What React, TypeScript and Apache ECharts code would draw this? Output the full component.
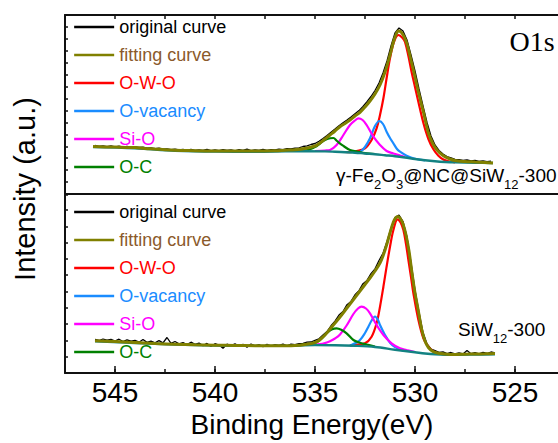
import React, { useEffect, useRef } from 'react';
import * as echarts from 'echarts';

// ---------- data (binding energy in eV, intensity in arbitrary units) ----------
const X_MIN = 520;
const X_MAX = 547.5;
const X_TICK_LABELS = [545, 540, 535, 530, 525];

const LEGEND_NAMES = ['original curve', 'fitting curve', 'O-W-O', 'O-vacancy', 'Si-O', 'O-C'];
const LEGEND_TEXT_COLORS = ['#000000', '#8B5A2B', '#FF0000', '#1A8CFF', '#FF00FF', '#008000'];
const LINE_COLORS = {
  original: '#000000',
  fit: '#808000',
  owo: '#FF0000',
  vac: '#1A8CFF',
  sio: '#FF00FF',
  oc: '#008000',
  bg: '#138282',
};

// raw spectra sampled every 0.2 eV starting at 546.0 eV (decreasing)
const ENERGY_START = 546.0;
const ENERGY_STEP = 0.2;

const TOP_ORIGINAL = [
  48.5, 47.5, 48.2, 47.3, 48.0, 47.2, 47.8, 46.9, 47.6, 46.8,
  47.2, 46.5, 46.9, 45.8, 46.2, 45.4, 45.9, 44.8, 45.1, 44.3,
  44.9, 44.0, 44.6, 43.8, 44.5, 43.6, 44.2, 43.5, 44.6, 43.4,
  44.0, 43.3, 44.4, 43.5, 44.1, 43.2, 44.3, 43.6, 44.8, 43.4,
  44.2, 43.5, 44.5, 43.7, 44.3, 44.0, 44.8, 44.4, 45.3, 45.0,
  45.8, 46.2, 47.5, 48.2, 49.5, 50.5, 52.8, 55.5, 58.5, 61.8,
  65.0, 68.3, 71.2, 74.0, 77.0, 80.3, 83.4, 87.5, 92.3, 97.5,
  103.5, 111, 121, 133, 148, 161, 166, 163, 154, 139,
  123, 105, 88, 71.5, 58, 49, 43.5, 40, 37.5, 36.2,
  34.6, 34.3, 33.5, 34.0, 33.1, 33.6, 32.6, 33.2, 32.3, 32.8,
];

const BOTTOM_ORIGINAL = [
  33.5, 32.5, 34.0, 32.8, 33.6, 31.9, 33.8, 31.5, 33.2, 31.8,
  32.6, 30.8, 33.5, 30.6, 31.9, 30.2, 32.4, 30.1, 35.5, 29.6,
  31.5, 29.2, 30.4, 28.5, 30.8, 28.7, 29.9, 27.4, 29.6, 26.5,
  29.3, 27.9, 24.8, 28.8, 27.3, 29.1, 26.9, 28.6, 25.8, 29.0,
  27.1, 28.4, 26.2, 28.7, 26.8, 28.3, 27.6, 28.9, 27.1, 28.8,
  28.4, 29.3, 29.6, 30.8, 31.0, 32.6, 34.2, 38.1, 41.5, 47.2,
  51.8, 57.9, 61.5, 68.3, 71.6, 78.2, 82.4, 89.3, 92.6, 99.4,
  104.1, 112.5, 119.8, 131.5, 145, 155.5, 158, 151.5, 136, 110.5,
  83, 61, 40.5, 29, 24, 22.3, 20.6, 21.2, 19.4, 20.5,
  19.2, 20.1, 19.0, 22.5, 19.3, 20.4, 19.1, 20.6, 19.5, 21.0,
  20.1,
];

// ---- top panel: γ-Fe2O3@NC@SiW12-300 ----
const TOP_FIT = [
  [546.1, 47.5], [545.5, 47.1], [545, 47], [544.5, 46.6], [544, 46.4], [543.5, 45.5], [543, 45],
  [542.5, 44.3], [542, 43.8], [541.5, 43.5], [541, 43.2], [540, 43], [539, 43], [538, 43],
  [537, 43.3], [536.5, 43.8], [536, 44.3], [535.5, 45.5], [535, 48], [534.75, 51], [534.5, 55],
  [534.25, 59], [534, 63], [533.75, 67.3], [533.5, 70.5], [533.25, 74], [533, 78], [532.75, 81.7],
  [532.5, 87], [532.25, 93], [532, 100], [531.75, 109], [531.5, 122], [531.25, 139], [531.08, 152],
  [530.95, 159.5], [530.83, 163], [530.7, 162], [530.55, 157.5], [530.4, 150], [530.25, 138],
  [530.08, 124], [529.83, 102], [529.58, 82], [529.33, 61], [529.1, 50], [528.9, 44], [528.6, 38.5],
  [528.25, 35], [528, 33.5], [527.5, 32.5], [527, 32], [526.5, 31.5], [526.1, 31],
];
const TOP_OWO = [
  [533.5, 42], [533.25, 41.8], [532.92, 43], [532.5, 45.7], [532.17, 54], [531.92, 65.7],
  [531.75, 79], [531.58, 95.7], [531.42, 115.7], [531.25, 135.7], [531.05, 152], [530.83, 159],
  [530.62, 156], [530.5, 152], [530.33, 138], [530.17, 122], [530, 107], [529.83, 92],
  [529.58, 71], [529.33, 55], [529.08, 44.8], [528.83, 38.3], [528.58, 34.5], [528.33, 32.8], [528, 31.6],
];
const TOP_VACANCY = [
  [533, 41.3], [532.75, 42], [532.5, 47], [532.25, 55.7], [532, 68], [531.78, 73], [531.6, 70],
  [531.42, 62.3], [531.25, 56], [531.08, 50.7], [530.9, 45], [530.75, 42.3], [530.42, 38.3],
  [530, 35.2], [529.5, 33.7],
];
const TOP_SIO = [
  [535, 43], [534.5, 43.5], [534.25, 44], [533.92, 49], [533.58, 59], [533.25, 69], [533, 73.5],
  [532.83, 75.7], [532.62, 74], [532.42, 69], [532.08, 57.3], [531.75, 49], [531.42, 43],
  [531.08, 40.5], [530.75, 38.5], [530.5, 37],
];
const TOP_OC = [
  [536, 43.3], [535.5, 43.5], [535, 47], [534.75, 50.5], [534.5, 54], [534.25, 55.7], [534.08, 56],
  [533.9, 53], [533.6, 48.3], [533.25, 44], [532.9, 42.5], [532.5, 40.8], [532, 40],
];
const TOP_BACKGROUND = [
  [546.1, 47], [544, 45.8], [542, 43.3], [540, 42.4], [538, 42.3], [536.5, 42.6], [535.5, 42.8],
  [534.5, 42.6], [534, 42.2], [533, 41.3], [532.5, 40.5], [532, 39.8], [531.5, 38.8], [531, 37.8],
  [530.5, 36.5], [530, 35], [529.5, 33.7], [529, 32.7], [528.5, 32], [528, 31.6], [527, 31.2], [526.1, 31],
];

// ---- bottom panel: SiW12-300 ----
const BOTTOM_FIT = [
  [546, 32.3], [545, 31.5], [544, 30.5], [543, 29.5], [542, 28.8], [541, 28.2], [540, 27.8],
  [539, 27.5], [538, 27.3], [537, 27.2], [536, 27.5], [535.5, 28.5], [535, 30.5], [534.75, 33.5],
  [534.5, 38], [534.25, 44], [534, 50], [533.75, 56], [533.5, 62.5], [533.25, 69], [533, 75.5],
  [532.75, 82], [532.5, 88.5], [532.25, 95], [532, 102], [531.75, 110], [531.6, 117], [531.42, 128],
  [531.25, 140], [531.08, 151], [530.95, 155.5], [530.85, 156.5], [530.72, 154], [530.6, 149],
  [530.45, 138], [530.3, 122], [530.15, 100], [530, 80], [529.85, 64], [529.67, 44], [529.5, 32],
  [529.33, 25.5], [529.1, 21.5], [528.8, 19.7], [528.4, 18.7], [528, 18.5], [527.5, 18.8],
  [527, 19], [526.5, 19.2], [526, 19.5],
];
const BOTTOM_OWO = [
  [533.25, 27.4], [532.92, 28.5], [532.5, 29.7], [532.17, 36.3], [531.92, 49.7], [531.75, 66.3],
  [531.58, 86.3], [531.42, 106.3], [531.25, 126.3], [531.08, 143], [530.87, 153.7], [530.72, 150.5],
  [530.58, 143], [530.45, 129], [530.33, 113], [530.2, 96], [530.08, 79.7], [529.83, 53],
  [529.58, 34.7], [529.33, 26.3], [529.08, 21.5], [528.75, 19.3], [528.4, 18.4],
];
const BOTTOM_VACANCY = [
  [533.25, 27.3], [533, 29.7], [532.75, 33], [532.5, 40], [532.33, 46.3], [532.17, 52.5], [532, 56.5],
  [531.85, 53], [531.75, 48], [531.5, 38], [531.25, 30.3], [531, 26], [530.75, 23.5], [530.5, 22.2],
];
const BOTTOM_SIO = [
  [535.25, 28.1], [534.75, 28.8], [534.5, 29.9], [534.25, 31.8], [534, 34.5], [533.75, 38.5],
  [533.42, 47.5], [533.08, 59], [532.85, 64.5], [532.67, 66.3], [532.45, 64.5], [532.25, 59.7],
  [531.92, 48], [531.58, 38], [531.17, 29.7], [530.75, 24.7], [530.42, 23], [530, 21],
];
const BOTTOM_OC = [
  [535.75, 27.9], [535.4, 28.6], [535.08, 29.7], [534.75, 33], [534.42, 39.7], [534.17, 43.5],
  [533.92, 44.7], [533.67, 43], [533.42, 39.7], [533.08, 33], [532.75, 30.3], [532.42, 28.5], [532, 26.5],
];
const BOTTOM_BACKGROUND = [
  [546, 31.8], [544, 30], [542, 28.5], [540, 27.5], [538, 27.1], [536, 27.3], [535, 27.9],
  [534, 27.8], [533, 27.2], [532, 26], [531, 23.3], [530, 20.8], [529.5, 19.5], [529, 18.7],
  [528, 18.2], [527, 18.4], [526, 18.7],
];

// ---------- chart ----------
const FONT = '"Liberation Sans", Arial, Helvetica, sans-serif';
const AXIS_COLOR = '#111';

function rawPairs(values: number[]) {
  return values.map((v, i) => [Number((ENERGY_START - i * ENERGY_STEP).toFixed(2)), v]);
}

function lineSeries(name: string, data: number[][], color: string, width: number, panel: number, smooth: boolean | number) {
  return {
    type: 'line',
    name,
    data,
    xAxisIndex: panel === 0 ? 0 : 2,
    yAxisIndex: panel,
    symbol: 'none',
    smooth,
    lineStyle: { color, width },
    itemStyle: { color },
    emphasis: { disabled: true },
    silent: true,
  };
}

function panelSeries(panel: number, original: number[], fit: number[][], owo: number[][], vac: number[][], sio: number[][], oc: number[][], bg: number[][]) {
  return [
    lineSeries('original curve', rawPairs(original), LINE_COLORS.original, 1.3, panel, false),
    lineSeries('O-W-O', owo, LINE_COLORS.owo, 2.2, panel, 0.35),
    lineSeries('O-vacancy', vac, LINE_COLORS.vac, 2.2, panel, 0.35),
    lineSeries('Si-O', sio, LINE_COLORS.sio, 2.2, panel, 0.35),
    lineSeries('O-C', oc, LINE_COLORS.oc, 2.2, panel, 0.35),
    lineSeries('background', bg, LINE_COLORS.bg, 2.4, panel, 0.35),
    lineSeries('fitting curve', fit, LINE_COLORS.fit, 3, panel, 0.35),
  ];
}

function xAxisBase(gridIndex: number, position: string, interval: number) {
  return {
    type: 'value',
    gridIndex,
    position,
    inverse: true,
    min: X_MIN,
    max: X_MAX,
    interval,
    splitLine: { show: false },
    axisLine: { show: true, onZero: false, lineStyle: { color: AXIS_COLOR, width: 2 } },
    axisTick: { show: false },
    axisLabel: { show: false },
  };
}

function legendFor(top: number) {
  return {
    orient: 'vertical',
    left: 73,
    top,
    padding: 0,
    itemWidth: 40,
    itemHeight: 20,
    itemGap: 8,
    selectedMode: false,
    itemStyle: { opacity: 0, borderWidth: 0 },
    lineStyle: { width: 2.3, opacity: 1 },
    textStyle: { fontSize: 18, fontFamily: FONT, lineHeight: 20 },
    data: LEGEND_NAMES.map((n, i) => ({ name: n, textStyle: { color: LEGEND_TEXT_COLORS[i] } })),
  };
}

const SUB_RICH = {
  n: { fontSize: 19, fontFamily: FONT, lineHeight: 25, verticalAlign: 'top', fill: '#000', color: '#000' },
  s: { fontSize: 13, fontFamily: FONT, lineHeight: 9, verticalAlign: 'bottom', fill: '#000', color: '#000' },
};

function buildOption() {
  return {
    animation: false,
    backgroundColor: '#ffffff',
    grid: [
      { left: 65, top: 15, width: 550, height: 179, containLabel: false, outerBoundsMode: 'none' },
      { left: 65, top: 195, width: 550, height: 178, containLabel: false, outerBoundsMode: 'none' },
    ],
    xAxis: [
      xAxisBase(0, 'bottom', 5),
      {
        ...xAxisBase(0, 'top', 2.5),
        axisTick: { show: true, inside: true, length: 4, lineStyle: { color: AXIS_COLOR, width: 1.5 } },
      },
      {
        ...xAxisBase(1, 'bottom', 5),
        axisTick: { show: true, inside: true, length: 7, lineStyle: { color: AXIS_COLOR, width: 1.5 } },
        axisLabel: {
          show: true,
          margin: 5,
          fontSize: 28,
          fontFamily: FONT,
          color: '#000',
          formatter: (v: number) => (X_TICK_LABELS.indexOf(Math.round(v * 100) / 100) >= 0 ? String(v) : ''),
        },
      },
      {
        ...xAxisBase(1, 'bottom', 2.5),
        axisLine: { show: false },
        axisTick: { show: true, inside: true, length: 4, lineStyle: { color: AXIS_COLOR, width: 1.5 } },
      },
    ],
    yAxis: [
      {
        type: 'value', gridIndex: 0, min: 0, max: 179, interval: 179 / 15,
        splitLine: { show: false },
        axisLine: { show: true, onZero: false, lineStyle: { color: AXIS_COLOR, width: 2 } },
        axisTick: { show: true, inside: true, length: 3, lineStyle: { color: AXIS_COLOR, width: 1.5 } },
        axisLabel: { show: false },
      },
      {
        type: 'value', gridIndex: 1, min: 0, max: 178, interval: 16.3,
        splitLine: { show: false },
        axisLine: { show: true, onZero: false, lineStyle: { color: AXIS_COLOR, width: 2 } },
        axisTick: { show: true, inside: true, length: 3, lineStyle: { color: AXIS_COLOR, width: 1.5 } },
        axisLabel: { show: false },
      },
    ],
    legend: [legendFor(17), legendFor(202)],
    series: [
      ...panelSeries(0, TOP_ORIGINAL, TOP_FIT, TOP_OWO, TOP_VACANCY, TOP_SIO, TOP_OC, TOP_BACKGROUND),
      ...panelSeries(1, BOTTOM_ORIGINAL, BOTTOM_FIT, BOTTOM_OWO, BOTTOM_VACANCY, BOTTOM_SIO, BOTTOM_OC, BOTTOM_BACKGROUND),
    ],
    graphic: [
      {
        type: 'text', x: 25, y: 189, rotation: Math.PI / 2, silent: true,
        style: { text: 'Intensity (a.u.)', fontSize: 29, fontFamily: FONT, fill: '#000', align: 'center', verticalAlign: 'middle' },
      },
      {
        type: 'text', x: 312, y: 424, silent: true,
        style: { text: 'Binding Energy(eV)', fontSize: 28, fontFamily: FONT, fill: '#000', align: 'center', verticalAlign: 'middle' },
      },
      {
        type: 'text', x: 532, y: 41, silent: true,
        style: { text: 'O1s', fontSize: 28, fontFamily: '"Liberation Serif", "Times New Roman", serif', fill: '#000', align: 'center', verticalAlign: 'middle' },
      },
      {
        type: 'text', x: 336, y: 166, silent: true,
        style: {
          text: '{n|γ-Fe}{s|2}{n|O}{s|3}{n|@NC@SiW}{s|12}{n|-300}',
          rich: SUB_RICH, fill: '#000', align: 'left', verticalAlign: 'top',
        },
      },
      {
        type: 'text', x: 458, y: 320, silent: true,
        style: {
          text: '{n|SiW}{s|12}{n|-300}',
          rich: SUB_RICH, fill: '#000', align: 'left', verticalAlign: 'top',
        },
      },
    ],
  };
}

export default function App() {
  const ref = useRef<HTMLDivElement>(null);
  useEffect(() => {
    document.body.style.margin = '0';
    document.body.style.overflow = 'hidden';
    if (!ref.current) return;
    const chart = echarts.init(ref.current, null, { renderer: 'svg' });
    chart.setOption(buildOption() as any);
    return () => chart.dispose();
  }, []);
  return <div ref={ref} style={{ width: 558, height: 443, background: '#fff' }} />;
}
